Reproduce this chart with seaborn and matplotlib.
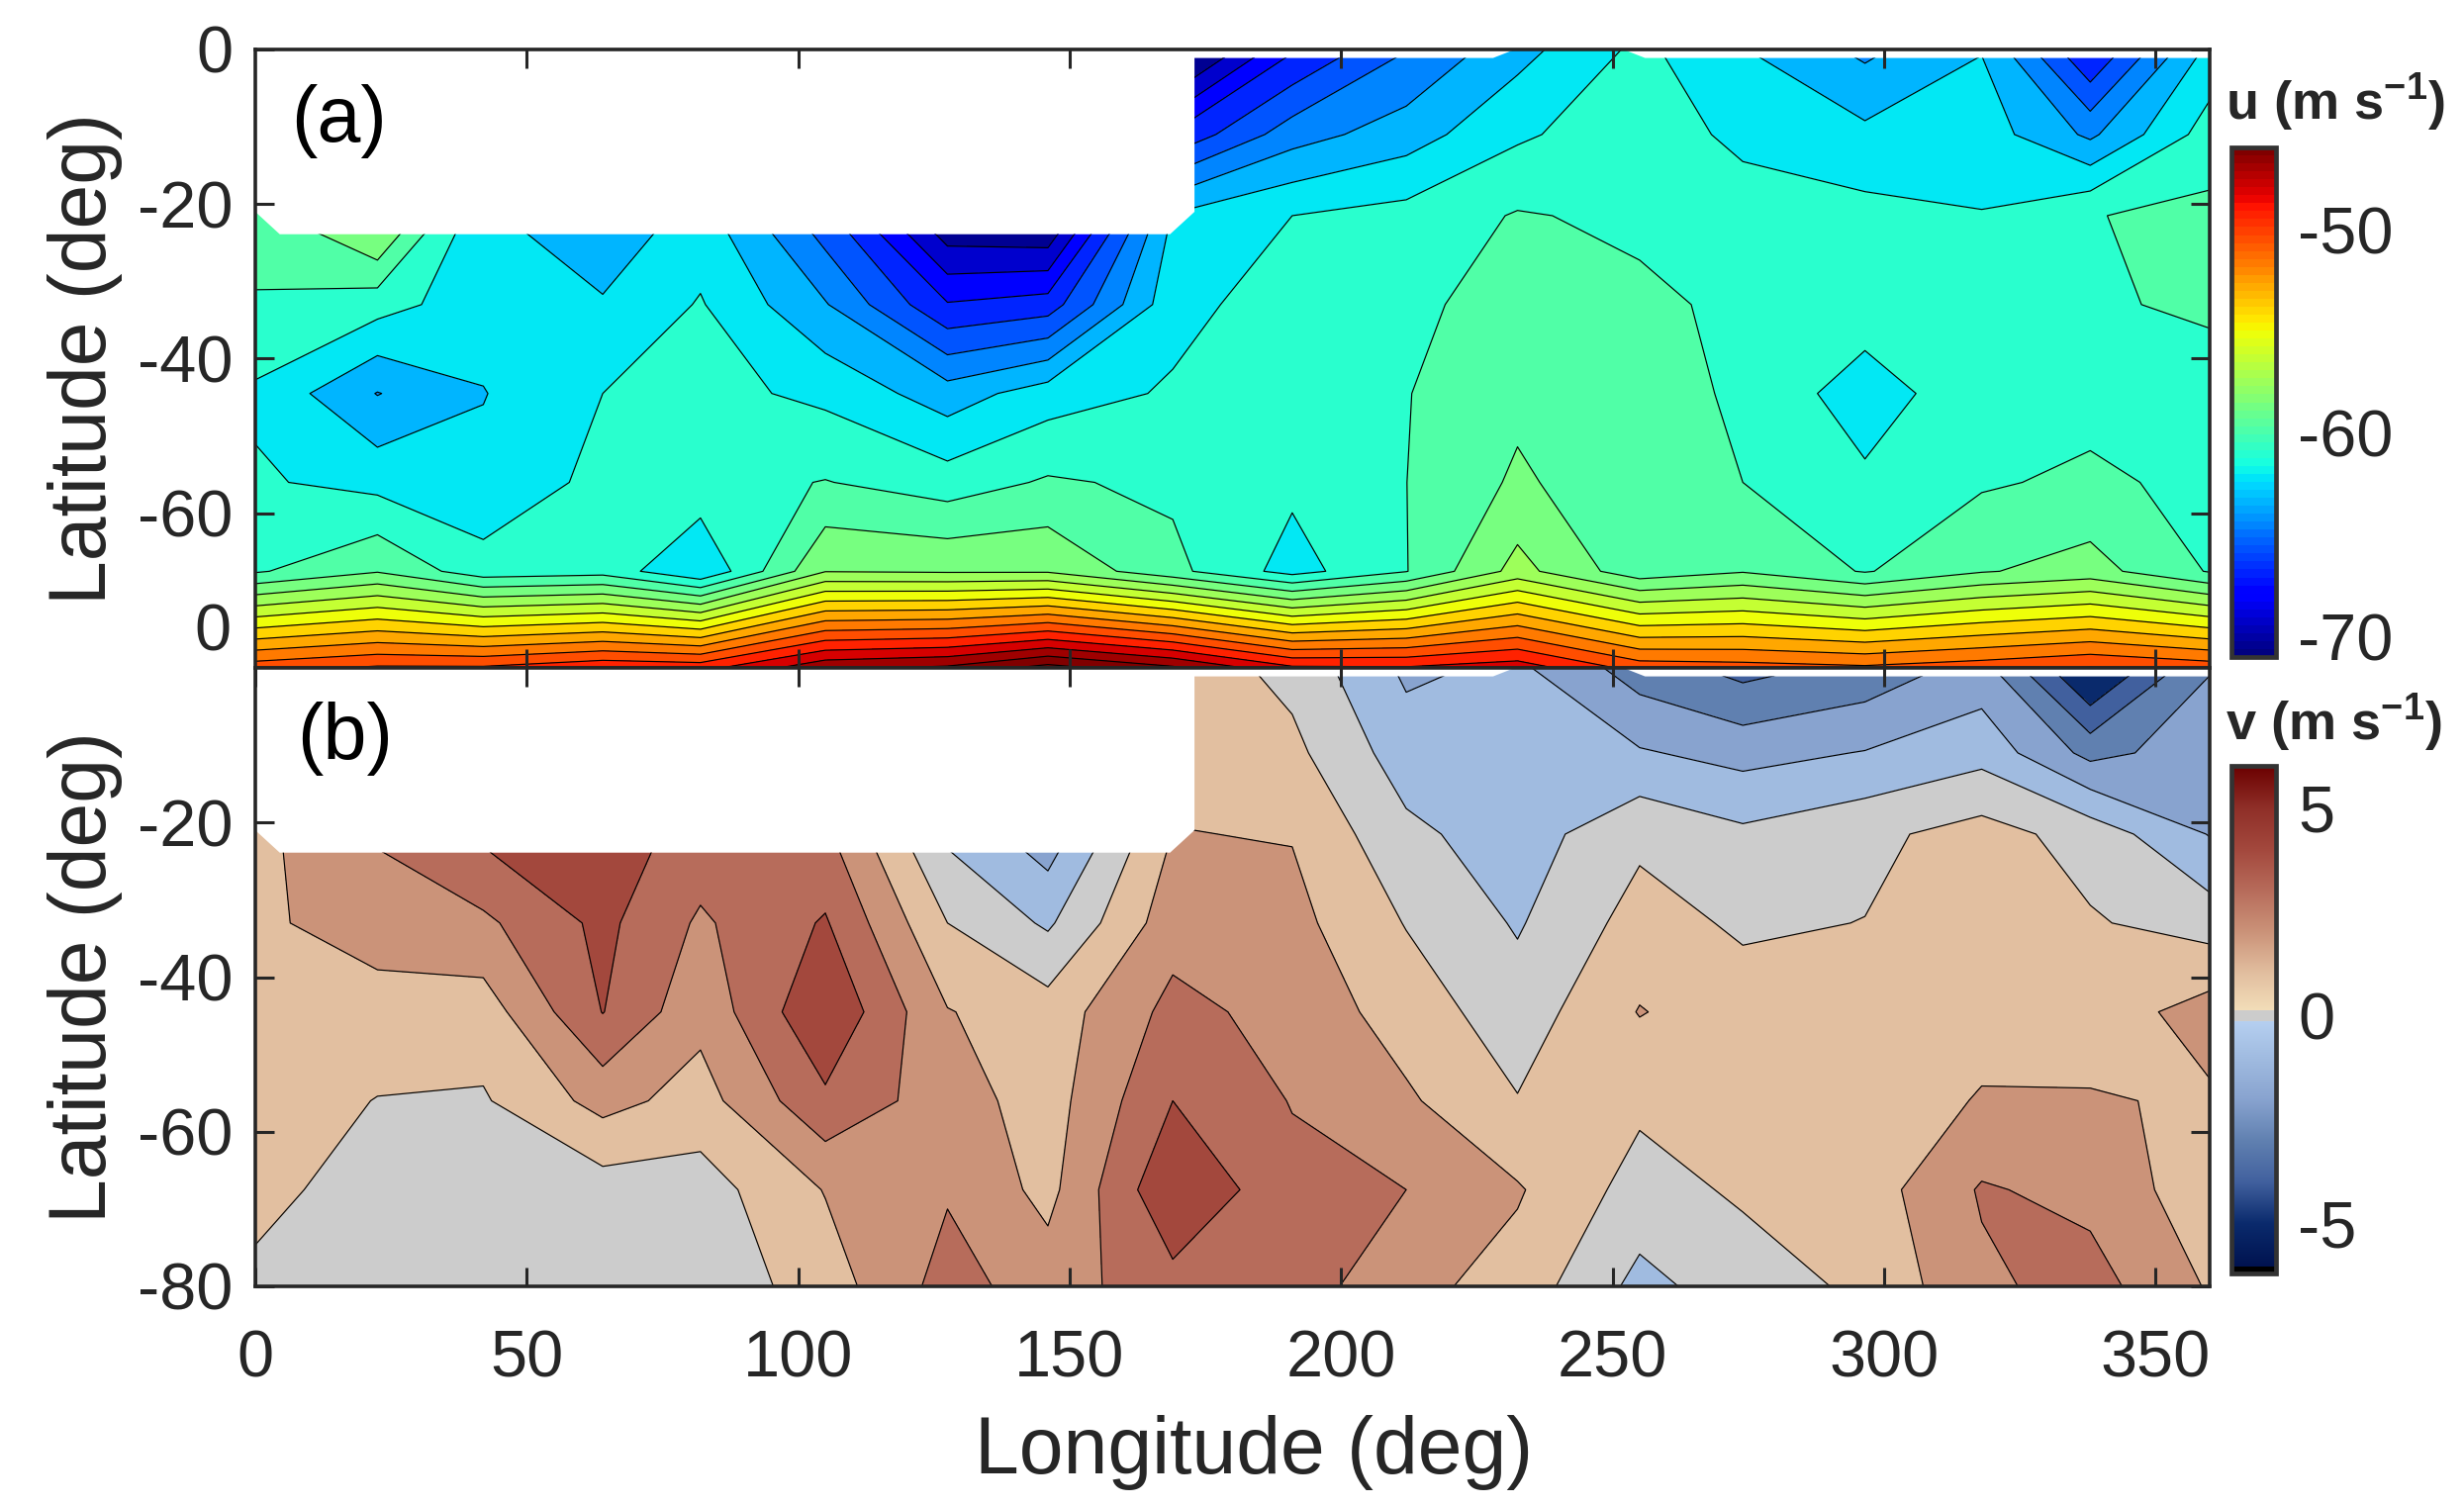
import numpy as np
import matplotlib
matplotlib.use("Agg")
import matplotlib.pyplot as plt
from matplotlib.colors import Normalize, ListedColormap, LinearSegmentedColormap
from matplotlib.cm import ScalarMappable
from matplotlib.patches import Polygon
import seaborn as sns

sns.set_theme(style="ticks")
INK = "#262626"
plt.rcParams.update({
    "font.family": ["Liberation Sans", "DejaVu Sans"],
    "mathtext.fontset": "custom",
    "mathtext.bf": "Liberation Sans:bold",
    "mathtext.rm": "Liberation Sans",
    "axes.unicode_minus": False,
    "contour.negative_linestyle": "solid",
    "text.color": INK, "axes.labelcolor": INK,
    "xtick.color": INK, "ytick.color": INK,
})

# ---- data ----
lon = [0, 22.5, 42, 64, 82, 105, 127.5, 146, 169, 191, 212, 232.5, 255, 274, 296.5, 318, 338, 360]
lat = [0, -11, -21.5, -33, -44.5, -56, -67.5, -80]

u_lat_00 = [-59, -58, -62, -64, -63, -68, -72, -74, -72.9, -67.9, -65.3, -63.2, -61.2, -62.7, -64.3, -62.8, -67.9, -62.4]
u_lat_11 = [-58.5, -57.5, -62, -65, -64, -68, -73, -75, -67.6, -64.55, -63.35, -61.7, -60.7, -61.85, -62.45, -62.1, -64.25, -60.9]
u_lat_21 = [-59.5, -57, -62.5, -63.9, -62.2, -66.1, -71.6, -72, -62.6, -61.5, -61.05, -60.15, -60.5, -60.8, -61.1, -61.45, -60.3, -59.95]
u_lat_33 = [-60.4, -61, -62.2, -62.6, -61.4, -63.9, -67.65, -67.15, -61.9, -60.9, -60.6, -59.6, -60, -60.5, -60.75, -60.8, -60.4, -60.05]
u_lat_44 = [-61.7, -64.05, -62.8, -61.5, -61.1, -61.8, -63.4, -62.1, -61.35, -61, -60.3, -59.3, -59.85, -60.4, -62.2, -60.6, -60.7, -60.8]
u_lat_56 = [-61.35, -61.9, -62.4, -61.15, -60.7, -60.2, -60.9, -60.1, -60.5, -61.24, -60.26, -58.8, -59.9, -60.25, -61.25, -60.4, -60, -60.6]
u_lat_67 = [-60.4, -59.1, -61, -60.75, -62.7, -57.8, -57.9, -57.9, -59.9, -62, -60.3, -57.3, -59.8, -59.1, -60.35, -59.1, -58.5, -60.35]
u_lat_80 = [-49.5, -48.8, -48.8, -48, -48.2, -45.5, -45, -43.5, -45, -47.5, -47.6, -47, -49.5, -49.7, -50, -49.5, -48.9, -49.5]

v_lat_00 = [1.5, 2, 3, 3.5, 3, 2, 0, -1, 1.6, .7, -1.2, -.8, -2.5, -3.35, -2.7, -1.6, -5.35, -2.05]
v_lat_11 = [1.6, 2.5, 3.5, 4, 3.2, 2.5, -.2, -1.5, 1.7, 1.25, -.5, -.65, -.9, -1.35, -.95, -.35, -2.3, -1.5]
v_lat_21 = [1.7, 3.1, 4.2, 4.55, 3.6, 3.2, -.2, -1.6, 2.03, 1.95, .23, -.5, .78, .2, .75, 1.4, .6, -1.05]
v_lat_33 = [1.8, 2.5, 2.8, 4.25, 2.85, 4.1, 1, -.15, 2.58, 2.3, .95, -.1, 1.4, .85, 1.02, 1.8, 1.1, .55]
v_lat_44 = [1.6, 1.55, 1.5, 4.03, 2.3, 4.9, 2.05, 1.45, 3.3, 2.65, 1.55, .45, 2.05, 1.45, 1.6, 1.75, 1.4, 2.45]
v_lat_56 = [1.5, .97, .9, 2.35, 1.6, 3.8, 2.45, 1.55, 4, 2.95, 2.15, 1.05, 1.2, 1.5, 1.6, 2.05, 2.1, 1.85]
v_lat_67 = [1.4, .4, .3, .52, .55, 2.05, 2.9, 1.7, 4.9, 3.3, 3, 2.1, .6, 1.15, 1.5, 3.1, 2.7, 1.4]
v_lat_80 = [.7, .3, .2, .3, .3, 1.5, 3.4, 2.5, 3.65, 3.5, 2.3, 1.6, -.3, .5, 1.2, 2.8, 3.4, 1.9]

# outline of the region with data
valid_lon = [0, 4.5, 168.5, 173, 173, 228, 232, 252, 256, 360, 360, 0]
valid_lat = [-21, -23.9, -23.9, -21, -1.1, -1.1, 0, 0, -1.1, -1.1, -80, -80]

u_levels = [-90, -70.25, -69, -67.75, -66.5, -65.25, -64, -62.75, -61.5, -60.25, -59, -57.75,
            -56.5, -55.25, -54, -52.75, -51.5, -50.25, -49, -47.75, -46.5, -45.25, -44, -42.75]
v_levels = [-8, -4, -3, -2, -1, 0, 1, 2, 3, 4, 5]
v_band_colors = ["#0a2a6c", "#41609e", "#6080b0", "#88a3cf", "#a0bbe0", "#cccccc",
                 "#e2bfa0", "#cb9379", "#b76c5b", "#a3483d"]
v_bar_values = [-6.2, -6.05, -6.05, -5, -4, -3, -2, -1, -0.12, -0.12, 0.12, 0.12, 1, 2, 3, 4, 5, 6.02]
v_bar_colors = ["#000000", "#000000", "#00124f", "#0a2a6c", "#41609e", "#6080b0", "#88a3cf",
                "#a0bbe0", "#b5cff0", "#cccccc", "#cccccc", "#f2ddb8", "#e2bfa0", "#cb9379",
                "#b76c5b", "#a3483d", "#8f2f28", "#6b0000"]

U = np.array([u_lat_00, u_lat_11, u_lat_21, u_lat_33, u_lat_44, u_lat_56, u_lat_67, u_lat_80])
V = np.array([v_lat_00, v_lat_11, v_lat_21, v_lat_33, v_lat_44, v_lat_56, v_lat_67, v_lat_80])

W, H = 2490, 1522
fig = plt.figure(figsize=(W / 100, H / 100), dpi=100, facecolor="white")


def box(x0, y0, x1, y1):
    return [x0 / W, 1 - y1 / H, (x1 - x0) / W, (y1 - y0) / H]


ax_a = fig.add_axes(box(258, 50, 2233, 675))
ax_b = fig.add_axes(box(258, 675, 2233, 1300))

band_norm = Normalize(-72.0, -45.7)
u_bar_norm = Normalize(-71.0, -45.95)
jet = matplotlib.colormaps["jet"]
u_low = [-71.5] + u_levels[1:-1]
u_colors = [jet(band_norm(l)) for l in u_low]
bar_span = v_bar_values[-1] - v_bar_values[0]
v_cmap = LinearSegmentedColormap.from_list(
    "vbar", [((x - v_bar_values[0]) / bar_span, c) for x, c in zip(v_bar_values, v_bar_colors)], N=512)
v_norm = Normalize(v_bar_values[0], v_bar_values[-1])


def panel(ax, Z, levels, colors):
    lines_at = levels[1:-1]
    filled = ax.contourf(lon, lat, Z, levels=levels, colors=colors)
    lines = ax.contour(lon, lat, Z, levels=lines_at, colors="black", linewidths=0.85)
    clip = Polygon(np.column_stack([valid_lon, valid_lat]), closed=True, transform=ax.transData,
                   fc="none", ec="none")
    ax.add_patch(clip)
    filled.set_clip_path(clip)
    lines.set_clip_path(clip)
    ax.set_xlim(0, 360)
    ax.set_ylim(-80, 0)
    ax.set_xticks([50, 100, 150, 200, 250, 300, 350])
    ax.tick_params(axis="both", direction="in", top=True, right=True, length=14, width=2.2,
                   labelsize=48, color=INK, zorder=5)
    ax.tick_params(axis="x", pad=31)
    ax.tick_params(axis="y", pad=16)
    for s in ax.spines.values():
        s.set_linewidth(2.6)
        s.set_color(INK)
        s.set_zorder(6)
    ax.set_axisbelow(False)


panel(ax_a, U, u_levels, u_colors)
panel(ax_b, V, v_levels, v_band_colors)

ax_a.tick_params(axis="x", labelbottom=False)
ax_a.set_yticks([0, -20, -40, -60])
ax_b.set_yticks([-20, -40, -60, -80])
ax_b.set_xticks([0, 50, 100, 150, 200, 250, 300, 350])

for ax in (ax_a, ax_b):
    ax.set_ylabel("Latitude (deg)", fontsize=58, va="center")
    ax.yaxis.set_label_coords(-0.087, 0.5)
ax_b.set_xlabel("Longitude (deg)", fontsize=58, va="center")
ax_b.xaxis.set_label_coords(0.511, -0.268)

fig.text(233 / W, 1 - 641 / H, "0", fontsize=48, ha="right", va="center")
fig.text(294 / W, 1 - 122 / H, "(a)", fontsize=57, ha="left", va="center", color="black")
fig.text(300 / W, 1 - 746 / H, "(b)", fontsize=57, ha="left", va="center", color="black")


def bar(y0, y1, cmap, norm, ticks, labels, title, title_y):
    cax = fig.add_axes(box(2255, y0, 2300, y1))
    cb = fig.colorbar(ScalarMappable(norm=norm, cmap=cmap), cax=cax)
    cb.set_ticks(ticks, labels=labels)
    cax.tick_params(direction="in", length=4, width=2.2, labelsize=48, pad=16, color=INK)
    cb.outline.set_linewidth(3.4)
    cb.outline.set_edgecolor("#333333")
    fig.text(2249 / W, 1 - title_y / H, title, fontsize=39, fontweight="bold", ha="left", va="center")


jet64 = ListedColormap(jet(np.linspace(0, 1, 64)))
bar(149, 664, jet64, u_bar_norm, [-50, -60, -70], ["-50", "-60", "-70"], r"u (m s$^{\mathbf{-1}}$)", 103)
bar(774, 1287, v_cmap, v_norm, [5, 0, -5], ["5", "0", "-5"], r"v (m s$^{\mathbf{-1}}$)", 730)

fig.savefig("out.png", dpi=100, facecolor="white")
